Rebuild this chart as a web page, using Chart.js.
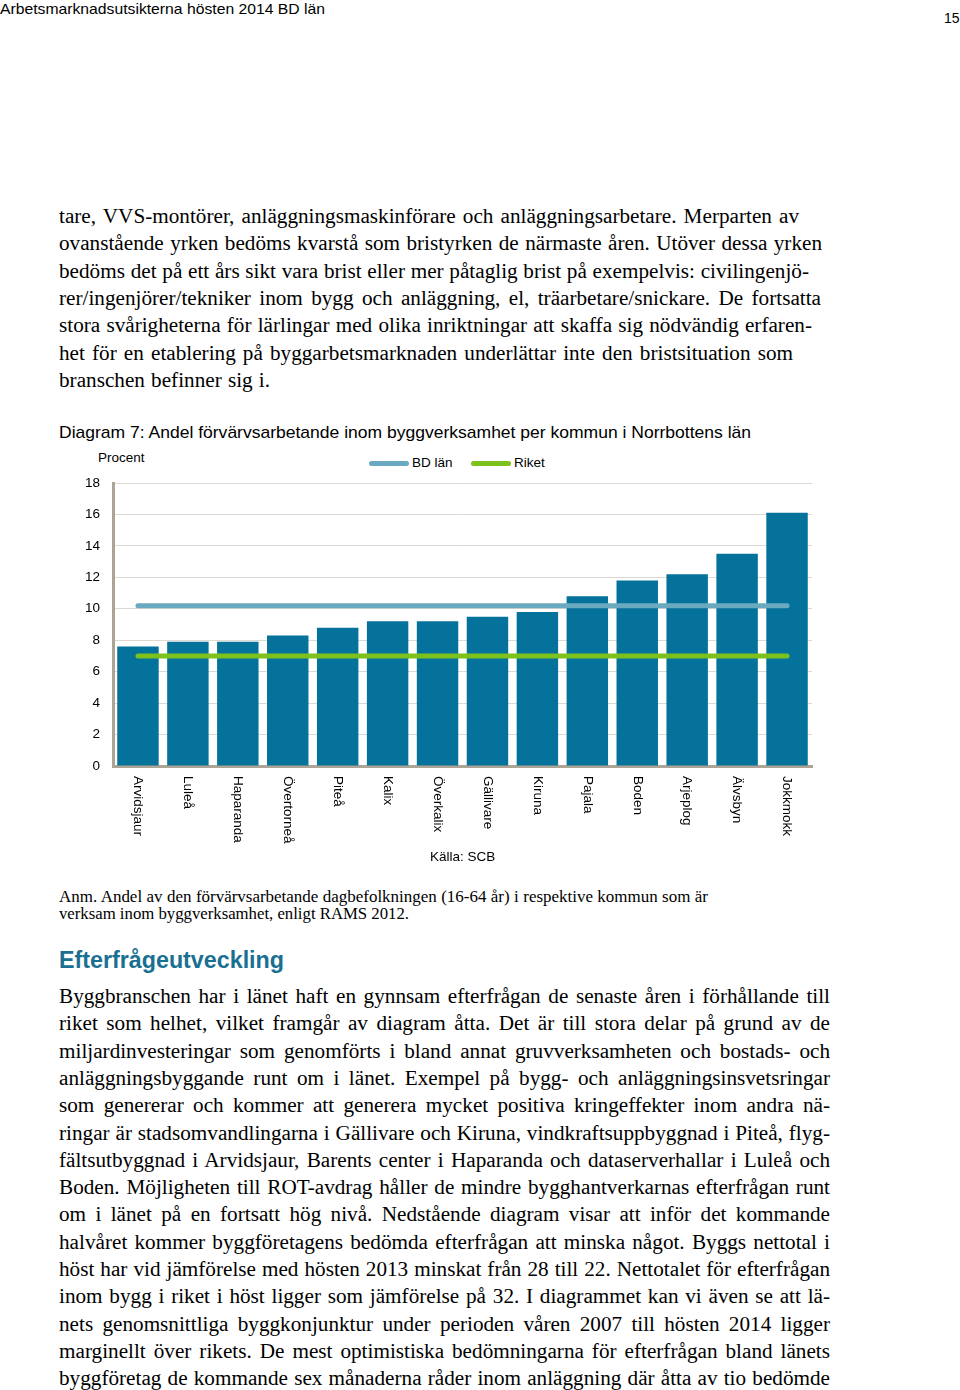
<!DOCTYPE html>
<html lang="sv">
<head>
<meta charset="utf-8">
<title>Diagram 7</title>
<script src="https://cdn.jsdelivr.net/npm/chart.js@4.4.1/dist/chart.umd.min.js"></script>
<style>
  html, body { margin: 0; padding: 0; background: #fff; }
  body { position: relative; width: 960px; height: 1390px; overflow: hidden; color: #000; }
  .ln { position: absolute; white-space: nowrap; transform-origin: left center; }
  .serif { font-family: "Liberation Serif", "Times New Roman", serif; font-size: 20px; line-height: 27px; }
  .note { font-family: "Liberation Serif", serif; font-size: 16px; line-height: 17px; }
  .sans { font-family: "Liberation Sans", Arial, sans-serif; }
  #chartBox { position: absolute; left: 0; top: 440px; width: 960px; height: 440px; }
  .legendLine { position: absolute; height: 5px; border-radius: 3px; }
</style>
</head>
<body>

<div class="ln sans" data-w="325" data-fit="scale" style="left:0; top:1px; font-size:14.5px; line-height:17px;">Arbetsmarknadsutsikterna hösten 2014 BD län</div>
<div class="ln sans" style="left:944px; top:10px; font-size:14px; line-height:17px;">15</div>

<div id="para1"></div>

<div class="ln sans" data-w="692" data-fit="scale" style="left:59px; top:423px; font-size:17px; line-height:20px;">Diagram 7: Andel förvärvsarbetande inom byggverksamhet per kommun i Norrbottens län</div>

<div class="ln sans" style="left:98px; top:450px; font-size:13.5px; line-height:16px;">Procent</div>
<div class="legendLine" style="left:369px; top:461px; width:40px; background:#6aaac0;"></div>
<div class="ln sans" style="left:412px; top:455px; font-size:13.5px; line-height:16px;">BD län</div>
<div class="legendLine" style="left:471px; top:461px; width:40px; background:#7dc11d;"></div>
<div class="ln sans" style="left:514px; top:455px; font-size:13.5px; line-height:16px;">Riket</div>

<div id="chartBox"><canvas id="barChart"></canvas></div>

<div class="ln sans" style="left:430px; top:849px; font-size:13.5px; line-height:16px;">Källa: SCB</div>

<div class="ln note" data-w="649" style="left:59px; top:888px;">Anm. Andel av den förvärvsarbetande dagbefolkningen (16-64 år) i respektive kommun som är</div>
<div class="ln note" data-w="350" style="left:59px; top:905px;">verksam inom byggverksamhet, enligt RAMS 2012.</div>

<div class="ln sans" data-w="225" data-fit="scale" style="left:59px; top:947px; font-size:23px; line-height:27px; font-weight:bold; color:#1a7092;">Efterfrågeutveckling</div>

<div id="para2"></div>

<script>
// Diagramdata
const kommuner = ["Arvidsjaur", "Luleå", "Haparanda", "Övertorneå", "Piteå", "Kalix", "Överkalix",
  "Gällivare", "Kiruna", "Pajala", "Boden", "Arjeplog", "Älvsbyn", "Jokkmokk"];
const andelBygg = [7.6, 7.9, 7.9, 8.3, 8.8, 9.2, 9.2, 9.5, 9.8, 10.8, 11.8, 12.2, 13.5, 16.1];
const bdLan = [10.2, 10.2, 10.2, 10.2, 10.2, 10.2, 10.2, 10.2, 10.2, 10.2, 10.2, 10.2, 10.2, 10.2];
const riket = [7.0, 7.0, 7.0, 7.0, 7.0, 7.0, 7.0, 7.0, 7.0, 7.0, 7.0, 7.0, 7.0, 7.0];
const yTicks = [0, 2, 4, 6, 8, 10, 12, 14, 16, 18];

// Brödtext, rad för rad [text, högerkant]
const rader1 = [
  ["tare, VVS-montörer, anläggningsmaskinförare och anläggningsarbetare. Merparten av", 799],
  ["ovanstående yrken bedöms kvarstå som bristyrken de närmaste åren. Utöver dessa yrken", 822],
  ["bedöms det på ett års sikt vara brist eller mer påtaglig brist på exempelvis: civilingenjö-", 809],
  ["rer/ingenjörer/tekniker inom bygg och anläggning, el, träarbetare/snickare.  De fortsatta", 821],
  ["stora svårigheterna för lärlingar med olika inriktningar att skaffa sig nödvändig erfaren-", 812],
  ["het för en etablering på byggarbetsmarknaden underlättar inte den bristsituation som", 793],
  ["branschen befinner sig i.", 270],
];
const rader2 = [
  "Byggbranschen har i länet haft en gynnsam efterfrågan de senaste åren i förhållande till",
  "riket som helhet, vilket framgår av diagram åtta. Det är till stora delar på grund av de",
  "miljardinvesteringar som genomförts i bland annat gruvverksamheten och bostads- och",
  "anläggningsbyggande runt om i länet. Exempel på bygg- och anläggningsinsvetsringar",
  "som genererar och kommer att generera mycket positiva kringeffekter inom andra nä-",
  "ringar är stadsomvandlingarna i Gällivare och Kiruna, vindkraftsuppbyggnad i Piteå, flyg-",
  "fältsutbyggnad i Arvidsjaur, Barents center i Haparanda och dataserverhallar i Luleå och",
  "Boden. Möjligheten till ROT-avdrag håller de mindre bygghantverkarnas efterfrågan runt",
  "om i länet på en fortsatt hög nivå.  Nedstående diagram visar att inför det kommande",
  "halvåret kommer byggföretagens bedömda efterfrågan att minska något. Byggs nettotal i",
  "höst har vid jämförelse med hösten 2013 minskat från 28 till 22. Nettotalet för efterfrågan",
  "inom bygg i riket i höst ligger som jämförelse på 32. I diagrammet kan vi även se att lä-",
  "nets genomsnittliga byggkonjunktur under perioden våren 2007 till hösten 2014 ligger",
  "marginellt över rikets. De mest optimistiska bedömningarna för efterfrågan bland länets",
  "byggföretag de kommande sex månaderna råder inom anläggning där åtta av tio bedömde",
];

function byggRader(id, rader, top) {
  const box = document.getElementById(id);
  rader.forEach((r, i) => {
    const d = document.createElement("div");
    d.className = "ln serif";
    d.textContent = r[0];
    d.dataset.w = r[1] - 59;
    d.style.left = "59px";
    d.style.top = (top + i * 27.3) + "px";
    box.appendChild(d);
  });
}
byggRader("para1", rader1, 203);
byggRader("para2", rader2.map(t => [t, 830]), 983);

// anpassa varje rad till sin bredd: lite bredare glyfer, resten i ordmellanrum
document.querySelectorAll(".ln[data-w]").forEach(el => {
  const mål = +el.dataset.w;
  const w = el.getBoundingClientRect().width;
  const mellanrum = (el.textContent.trim().match(/ +/g) || []).length;
  if (el.dataset.fit === "scale" || w >= mål || mellanrum === 0) {
    el.style.transform = "scaleX(" + (mål / w) + ")";
    return;
  }
  const skala = Math.min(mål / w, 1.06);
  el.style.transform = "scaleX(" + skala + ")";
  el.style.wordSpacing = ((mål / skala - w) / mellanrum) + "px";
});

// kommunnamn lodrätt under staplarna
const etiketter = {
  id: "etiketter",
  afterDraw(chart) {
    const x = chart.scales.x;
    const ctx = chart.ctx;
    ctx.save();
    ctx.font = '13.5px "Liberation Sans", Arial, sans-serif';
    ctx.fillStyle = "#000";
    ctx.textAlign = "left";
    ctx.textBaseline = "middle";
    kommuner.forEach((k, i) => {
      ctx.save();
      ctx.translate(x.getPixelForValue(i), chart.chartArea.bottom + 10);
      ctx.rotate(Math.PI / 2);
      ctx.fillText(k, 0, 0);
      ctx.restore();
    });
    ctx.restore();
  },
};

const ctx = document.getElementById("barChart").getContext("2d");
new Chart(ctx, {
  type: "bar",
  data: {
    labels: kommuner,
    datasets: [
      {
        type: "line",
        label: "BD län",
        data: bdLan,
        borderColor: "#6aaac0",
        borderWidth: 5,
        borderCapStyle: "round",
        pointRadius: 0,
        order: 1,
      },
      {
        type: "line",
        label: "Riket",
        data: riket,
        borderColor: "#7dc11d",
        borderWidth: 5,
        borderCapStyle: "round",
        pointRadius: 0,
        order: 2,
      },
      {
        label: "Andel",
        data: andelBygg,
        backgroundColor: "#04729a",
        barPercentage: 0.83,
        categoryPercentage: 1,
        order: 3,
      },
    ],
  },
  options: {
    responsive: true,
    maintainAspectRatio: false,
    animation: false,
    layout: { padding: { top: 43, right: 148, left: 0, bottom: 0 } },
    scales: {
      x: {
        grid: { display: false },
        ticks: { display: false },
        border: { color: "#aca596", width: 3 },
        afterFit: (s) => { s.height = 114; },
      },
      y: {
        min: 0,
        max: 18,
        afterBuildTicks: (s) => { s.ticks = yTicks.map((v) => ({ value: v })); },
        grid: { color: "#dcd8d2", lineWidth: 1, drawTicks: false },
        border: { color: "#aca596", width: 3 },
        ticks: {
          padding: 13,
          color: "#000",
          font: { family: '"Liberation Sans", Arial, sans-serif', size: 13.5 },
        },
        afterFit: (s) => { s.width = 113; },
      },
    },
    plugins: {
      legend: { display: false },
      tooltip: { enabled: false },
    },
  },
  plugins: [etiketter],
});
</script>
</body>
</html>
